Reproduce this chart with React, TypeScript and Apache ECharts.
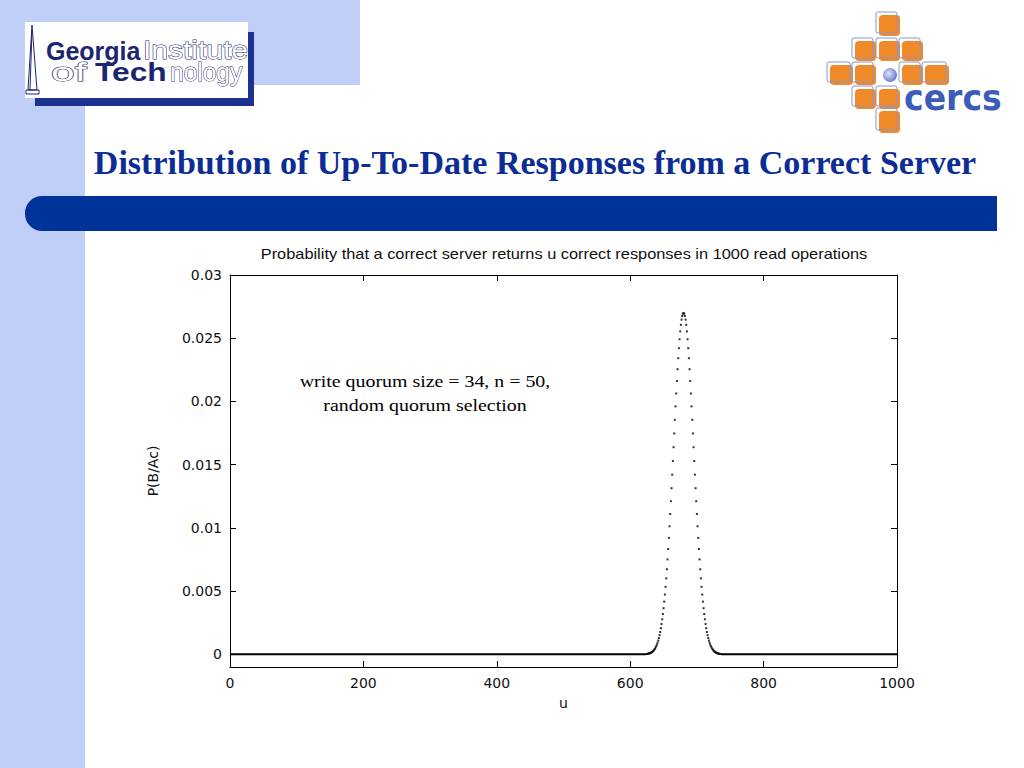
import React, { useEffect, useRef } from "react";
import * as echarts from "echarts";

// ---- data ----
const xTickValues = [0, 200, 400, 600, 800, 1000];
const yTickValues = [0, 0.005, 0.01, 0.015, 0.02, 0.025, 0.03];

// P(B/Ac) for u = peakStart, peakStart+1, ... (one dot per integer u)
const peakStart = 625;
const pValues = [
  0.00003, 0.00004, 0.00005, 0.00007, 0.00008, 0.0001, 0.00013, 0.00016, 0.0002, 0.00024,
  0.0003, 0.00037, 0.00044, 0.00054, 0.00064, 0.00077, 0.00092, 0.00109, 0.00129, 0.00152,
  0.00177, 0.00207, 0.0024, 0.00277, 0.00319, 0.00365, 0.00417, 0.00473, 0.00534, 0.00601,
  0.00673, 0.00751, 0.00833, 0.00921, 0.01013, 0.0111, 0.01211, 0.01314, 0.01421, 0.01529,
  0.01638, 0.01747, 0.01855, 0.01961, 0.02063, 0.02162, 0.02255, 0.02342, 0.02421, 0.02492,
  0.02554, 0.02606, 0.02647, 0.02676, 0.02694,
  0.027,
  0.02694, 0.02676, 0.02647, 0.02606, 0.02554, 0.02492, 0.02421, 0.02342, 0.02255, 0.02162,
  0.02063, 0.01961, 0.01855, 0.01747, 0.01638, 0.01529, 0.01421, 0.01314, 0.01211, 0.0111,
  0.01013, 0.00921, 0.00833, 0.00751, 0.00673, 0.00601, 0.00534, 0.00473, 0.00417, 0.00365,
  0.00319, 0.00277, 0.0024, 0.00207, 0.00177, 0.00152, 0.00129, 0.00109, 0.00092, 0.00077,
  0.00064, 0.00054, 0.00044, 0.00037, 0.0003, 0.00024, 0.0002, 0.00016, 0.00013, 0.0001,
  0.00008, 0.00007, 0.00005, 0.00004, 0.00003,
];
// zero-probability tails (dense dots at P = 0)
const tailLeft = [
  [0, 0],
  [624, 0],
];
const tailRight = [
  [736, 0],
  [1000, 0],
];

const chartTitle =
  "Probability that a correct server returns u correct responses in 1000 read operations";
const slideTitle = "Distribution of Up-To-Date Responses from a Correct Server";
const noteLines = ["write quorum size = 34, n = 50,", "random quorum selection"];

const NAVY = "#1c2670";
const ORANGE = "#f08a28";

function cercsSquares() {
  // [x, y, w, h]
  const sq = [
    [879, 15, 21, 21],
    [855, 41, 21, 20],
    [879, 41, 21, 20],
    [902, 41, 21, 20],
    [830, 65, 23, 20],
    [855, 65, 21, 20],
    [902, 65, 21, 20],
    [925, 65, 24, 20],
    [855, 89, 21, 20],
    [879, 89, 21, 20],
    [879, 111, 21, 22],
  ];
  const out: any[] = [];
  sq.forEach(([x, y, w, h]) => {
    out.push({
      type: "rect",
      shape: { x: x - 3, y: y - 3, width: w, height: h, r: 2 },
      style: { fill: "none", stroke: "#8a94d0", lineWidth: 1 },
      z: 101,
    });
    out.push({
      type: "rect",
      shape: { x, y, width: w, height: h, r: 4 },
      style: { fill: ORANGE },
      z: 100,
    });
  });
  return out;
}

function logoText(text: string, x: number, y: number, bold: boolean, outline: boolean, sx: number) {
  return {
    type: "text",
    x,
    y,
    scaleX: sx,
    style: {
      text,
      fill: outline ? "#ffffff" : NAVY,
      stroke: outline ? NAVY : undefined,
      lineWidth: outline ? 1 : 0,
      font: (bold ? "bold " : "") + "25px 'Liberation Sans', Arial, sans-serif",
      textVerticalAlign: "bottom",
    },
    z: 5,
  };
}

export default function App() {
  const ref = useRef<HTMLDivElement>(null);

  useEffect(() => {
    if (!ref.current) return;
    const chart = echarts.init(ref.current, undefined, { renderer: "svg" });

    const peakData = pValues.map((p, i) => [peakStart + i, p]);

    const axisFont = {
      fontFamily: "DejaVu Sans, Verdana, sans-serif",
      fontSize: 14,
      color: "#111",
    };

    const option: any = {
      animation: false,
      backgroundColor: "#ffffff",
      grid: { left: 230, top: 275, width: 667, height: 392, containLabel: false },
      xAxis: [
        {
          type: "value",
          min: 0,
          max: 1000,
          interval: 200,
          position: "bottom",
          name: "u",
          nameLocation: "middle",
          nameGap: 29,
          nameTextStyle: axisFont,
          axisLine: { show: true, onZero: false, lineStyle: { color: "#000", width: 1 } },
          axisTick: { show: true, inside: true, length: 6, customValues: xTickValues, lineStyle: { color: "#000" } },
          axisLabel: {
            ...axisFont,
            margin: 9,
            customValues: xTickValues,
            formatter: (v: number) => String(v),
          },
          splitLine: { show: false },
        },
        {
          type: "value",
          min: 0,
          max: 1000,
          interval: 200,
          position: "top",
          axisLine: { show: true, onZero: false, lineStyle: { color: "#000", width: 1 } },
          axisTick: { show: true, inside: true, length: 6, customValues: xTickValues, lineStyle: { color: "#000" } },
          axisLabel: { show: false, customValues: xTickValues },
          splitLine: { show: false },
        },
      ],
      yAxis: [
        {
          type: "value",
          min: -0.001,
          max: 0.03,
          position: "left",
          name: "P(B/Ac)",
          nameLocation: "middle",
          nameGap: 70,
          nameRotate: 90,
          nameTextStyle: axisFont,
          axisLine: { show: true, onZero: false, lineStyle: { color: "#000", width: 1 } },
          axisTick: {
            show: true,
            inside: true,
            length: 6,
            customValues: yTickValues,
            lineStyle: { color: "#000" },
          },
          axisLabel: {
            ...axisFont,
            margin: 8,
            customValues: yTickValues,
            formatter: (v: number) => String(+v.toFixed(3)),
          },
          splitLine: { show: false },
        },
        {
          type: "value",
          min: -0.001,
          max: 0.03,
          position: "right",
          axisLine: { show: true, onZero: false, lineStyle: { color: "#000", width: 1 } },
          axisTick: {
            show: true,
            inside: true,
            length: 6,
            customValues: yTickValues,
            lineStyle: { color: "#000" },
          },
          axisLabel: { show: false, customValues: yTickValues },
          splitLine: { show: false },
        },
      ],
      series: [
        {
          type: "line",
          data: tailLeft,
          symbol: "none",
          lineStyle: { color: "#000", width: 2 },
          silent: true,
        },
        {
          type: "line",
          data: tailRight,
          symbol: "none",
          lineStyle: { color: "#000", width: 2 },
          silent: true,
        },
        {
          type: "scatter",
          data: peakData,
          symbol: "rect",
          symbolSize: 2,
          itemStyle: { color: "#000" },
          silent: true,
        },
      ],
      graphic: [
        // slide background decoration
        { type: "rect", shape: { x: 0, y: 0, width: 360, height: 85 }, style: { fill: "#bfcff8" }, z: 1 },
        { type: "rect", shape: { x: 0, y: 0, width: 85, height: 768 }, style: { fill: "#bfcff8" }, z: 1 },
        // Georgia Tech logo
        { type: "rect", shape: { x: 35, y: 32, width: 219, height: 74 }, style: { fill: "#1f3190" }, z: 2 },
        { type: "rect", shape: { x: 25, y: 22, width: 223, height: 76 }, style: { fill: "#ffffff" }, z: 3 },
        {
          type: "polygon",
          shape: { points: [[32, 25], [28, 90], [37, 90]] },
          style: { fill: "none", stroke: NAVY, lineWidth: 1 },
          z: 4,
        },
        {
          type: "polyline",
          shape: { points: [[32, 30], [30, 90]] },
          style: { stroke: NAVY, lineWidth: 1 },
          z: 4,
        },
        {
          type: "rect",
          shape: { x: 26, y: 90, width: 13, height: 4 },
          style: { fill: "none", stroke: NAVY, lineWidth: 1 },
          z: 4,
        },
        logoText("Georgia", 46, 63, true, false, 1),
        logoText("Institute", 143, 63, false, true, 1.2),
        logoText("of", 51, 85, false, true, 1.7),
        logoText("Tech", 95, 85, true, false, 1.27),
        logoText("nology", 170, 85, false, true, 0.98),
        // CERCS logo
        ...cercsSquares(),
        {
          type: "circle",
          shape: { cx: 890, cy: 75, r: 7 },
          style: {
            fill: new echarts.graphic.RadialGradient(0.4, 0.4, 0.7, [
              { offset: 0, color: "#e0e6ff" },
              { offset: 1, color: "#5a6cc0" },
            ]),
          },
          z: 102,
        },
        {
          type: "text",
          x: 904,
          y: 115,
          scaleX: 0.92,
          style: {
            text: "cercs",
            fill: "#3b5cb8",
            font: "bold 36px 'DejaVu Sans', 'Liberation Sans', sans-serif",
            textVerticalAlign: "bottom",
          },
          z: 102,
        },
        // slide title
        {
          type: "text",
          x: 535,
          y: 162,
          style: {
            text: slideTitle,
            fill: "#0c2d94",
            font: "bold 34px 'Liberation Serif', 'Times New Roman', serif",
            textAlign: "center",
            textVerticalAlign: "middle",
          },
          z: 10,
        },
        // blue bar
        {
          type: "rect",
          shape: { x: 25, y: 196, width: 972, height: 35, r: [17, 0, 0, 17] },
          style: { fill: "#003399" },
          z: 10,
        },
        // chart title
        {
          type: "text",
          x: 564,
          y: 254,
          scaleX: 1.17,
          style: {
            text: chartTitle,
            fill: "#111",
            font: "14px 'Liberation Sans', Arial, sans-serif",
            textAlign: "center",
            textVerticalAlign: "middle",
          },
          z: 10,
        },
        // annotation
        {
          type: "text",
          x: 425,
          y: 381,
          scaleX: 1.17,
          style: {
            text: noteLines[0],
            fill: "#000",
            font: "17px 'Liberation Serif', 'Times New Roman', serif",
            textAlign: "center",
            textVerticalAlign: "middle",
          },
          z: 10,
        },
        {
          type: "text",
          x: 425,
          y: 405,
          scaleX: 1.17,
          style: {
            text: noteLines[1],
            fill: "#000",
            font: "17px 'Liberation Serif', 'Times New Roman', serif",
            textAlign: "center",
            textVerticalAlign: "middle",
          },
          z: 10,
        },
      ],
    };

    chart.setOption(option);
    return () => chart.dispose();
  }, []);

  return (
    <div
      ref={ref}
      style={{ position: "fixed", left: 0, top: 0, width: 1024, height: 768, background: "#fff" }}
    />
  );
}
